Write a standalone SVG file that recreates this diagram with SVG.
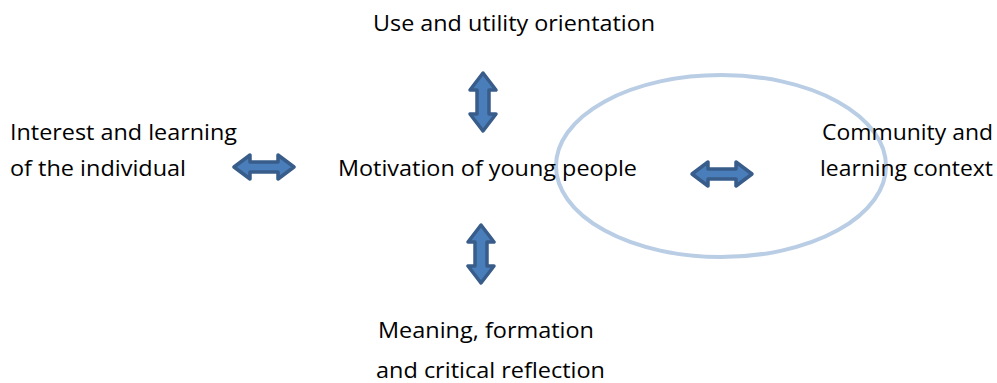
<svg xmlns="http://www.w3.org/2000/svg" width="997" height="383" viewBox="0 0 997 383">
<style>
text{font-family:"Open Sans","Liberation Sans",sans-serif;font-size:22px;fill:#000}
.arr{fill:#4a7ebb;stroke:#385d8a;stroke-width:3.5;stroke-linejoin:round}
</style>
<defs>
<path id="harr" d="M-30,0 L-14,-12 L-14,-5 L14,-5 L14,-12 L30,0 L14,12 L14,5 L-14,5 L-14,12 Z"/>
<path id="varr" d="M0,-29 L13,-12 L6,-12 L6,12 L13,12 L0,29 L-13,12 L-6,12 L-6,-12 L-13,-12 Z"/>
</defs>
<rect width="997" height="383" fill="#fff"/>
<g id="context-ellipse"><ellipse cx="721" cy="166" rx="165" ry="91" fill="none" stroke="#b9cde5" stroke-width="4"/></g>
<g id="node-top"><text x="373" y="31" textLength="282" lengthAdjust="spacingAndGlyphs">Use and utility orientation</text></g>
<g id="node-left"><text x="10" y="140" textLength="227" lengthAdjust="spacingAndGlyphs">Interest and learning</text><text x="10" y="176" textLength="176" lengthAdjust="spacingAndGlyphs">of the individual</text></g>
<g id="node-center"><text x="338" y="176" textLength="299" lengthAdjust="spacingAndGlyphs">Motivation of young people</text></g>
<g id="node-right"><text x="822" y="140" textLength="171" lengthAdjust="spacingAndGlyphs">Community and</text><text x="820" y="176" textLength="173" lengthAdjust="spacingAndGlyphs">learning context</text></g>
<g id="node-bottom"><text x="378" y="338" textLength="216" lengthAdjust="spacingAndGlyphs">Meaning, formation</text><text x="376" y="378" textLength="229" lengthAdjust="spacingAndGlyphs">and critical reflection</text></g>
<g id="connectors">
<use href="#varr" class="arr" transform="translate(483,102)"/>
<use href="#harr" class="arr" transform="translate(264,167)"/>
<use href="#harr" class="arr" transform="translate(722,174)"/>
<use href="#varr" class="arr" transform="translate(481,254)"/>
</g>
</svg>
